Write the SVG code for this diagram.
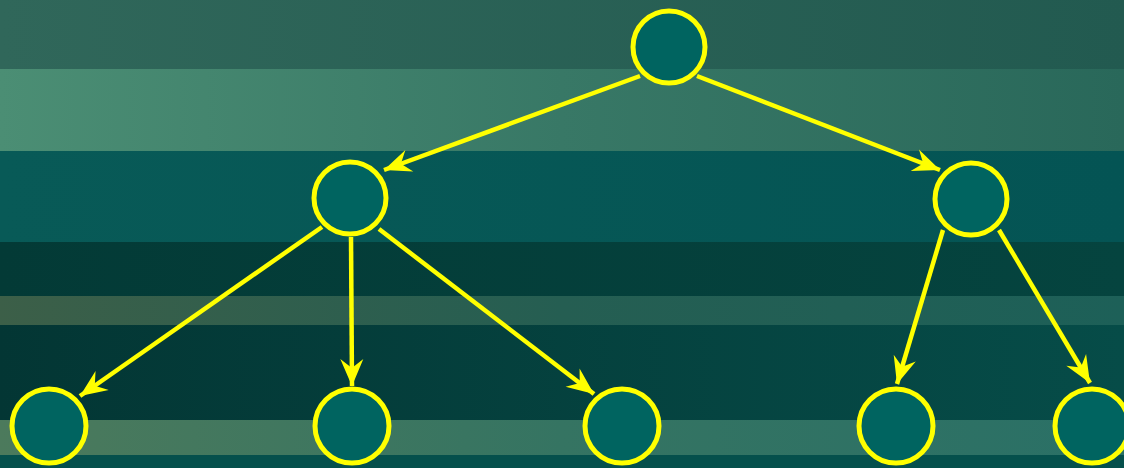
<svg xmlns="http://www.w3.org/2000/svg" width="1124" height="468" viewBox="0 0 1124 468">
<defs>
<linearGradient id="g1" x1="0" x2="1" y1="0" y2="0"><stop offset="0" stop-color="#30675a"/><stop offset="1" stop-color="#225a50"/></linearGradient>
<linearGradient id="g2" x1="0" x2="1" y1="0" y2="0"><stop offset="0" stop-color="#4b8e74"/><stop offset="0.5" stop-color="#387866"/><stop offset="1" stop-color="#29685a"/></linearGradient>
<linearGradient id="g3" x1="0" x2="1" y1="0" y2="0"><stop offset="0" stop-color="#085a57"/><stop offset="1" stop-color="#045454"/></linearGradient>
<linearGradient id="g4" x1="0" x2="1" y1="0" y2="0"><stop offset="0" stop-color="#033a36"/><stop offset="1" stop-color="#05443f"/></linearGradient>
<linearGradient id="g5" x1="0" x2="1" y1="0" y2="0"><stop offset="0" stop-color="#3c5f48"/><stop offset="0.5" stop-color="#255e52"/><stop offset="1" stop-color="#1d6058"/></linearGradient>
<linearGradient id="g6" x1="0" x2="1" y1="0" y2="0"><stop offset="0" stop-color="#033634"/><stop offset="1" stop-color="#064c48"/></linearGradient>
<linearGradient id="g7" x1="0" x2="1" y1="0" y2="0"><stop offset="0" stop-color="#4c7a5c"/><stop offset="0.5" stop-color="#357462"/><stop offset="1" stop-color="#2a7066"/></linearGradient>
<marker id="arr" markerUnits="userSpaceOnUse" markerWidth="32" markerHeight="26" viewBox="-28 -13 30 26" refX="0" refY="0" orient="auto">
<path d="M0,0 L-27,-11.5 L-18,0 L-27,11.5 Z" fill="#ffff00"/>
</marker>
<style>
.n{fill:#006460;stroke:#ffff00;stroke-width:5}
.e{stroke:#ffff00;stroke-width:4.5;fill:none;marker-end:url(#arr)}
</style>
</defs>
<g id="background">
<rect x="0" y="0" width="1124" height="69" fill="url(#g1)"/>
<rect x="0" y="69" width="1124" height="82" fill="url(#g2)"/>
<rect x="0" y="151" width="1124" height="91" fill="url(#g3)"/>
<rect x="0" y="242" width="1124" height="54" fill="url(#g4)"/>
<rect x="0" y="296" width="1124" height="29" fill="url(#g5)"/>
<rect x="0" y="325" width="1124" height="95" fill="url(#g6)"/>
<rect x="0" y="420" width="1124" height="35" fill="url(#g7)"/>
<rect x="0" y="455" width="1124" height="13" fill="#05504c"/>
</g>
<g id="connectors">
<line class="e" x1="640" y1="76" x2="384" y2="170"/>
<line class="e" x1="697" y1="76" x2="940" y2="170"/>
<line class="e" x1="322" y1="227" x2="80" y2="396"/>
<line class="e" x1="351" y1="237" x2="352" y2="386"/>
<line class="e" x1="379" y1="229" x2="594" y2="394"/>
<line class="e" x1="943" y1="230" x2="897" y2="384"/>
<line class="e" x1="999" y1="230" x2="1090" y2="383"/>
</g>
<g id="root"><circle class="n" cx="669" cy="47" r="36"/></g>
<g id="mid-left"><circle class="n" cx="350" cy="198" r="36"/></g>
<g id="mid-right"><circle class="n" cx="971" cy="199" r="36"/></g>
<g id="leaf1"><circle class="n" cx="49" cy="426" r="37"/></g>
<g id="leaf2"><circle class="n" cx="352" cy="426" r="37"/></g>
<g id="leaf3"><circle class="n" cx="622" cy="426" r="37"/></g>
<g id="leaf4"><circle class="n" cx="896" cy="426" r="37"/></g>
<g id="leaf5"><circle class="n" cx="1092" cy="426" r="37"/></g>
</svg>
